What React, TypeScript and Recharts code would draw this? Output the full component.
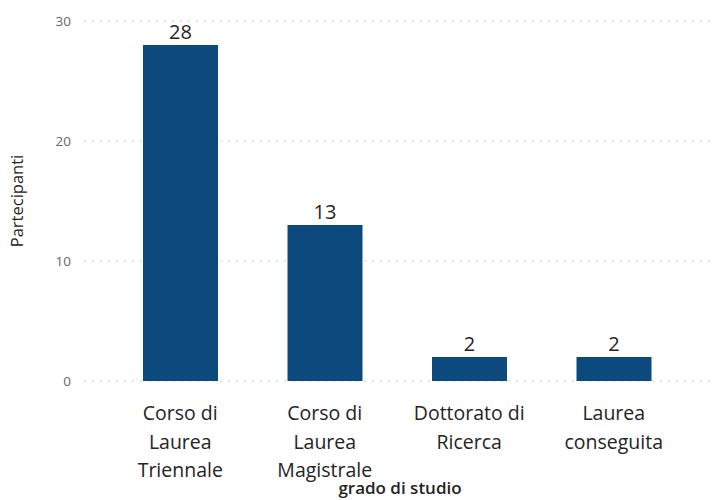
import { BarChart, Bar, XAxis, YAxis, CartesianGrid, LabelList, Label } from 'recharts'

const categories = ['Corso di Laurea Triennale', 'Corso di Laurea Magistrale', 'Dottorato di Ricerca', 'Laurea conseguita']
const categoryLines = [
    ['Corso di', 'Laurea', 'Triennale'],
    ['Corso di', 'Laurea', 'Magistrale'],
    ['Dottorato di', 'Ricerca'],
    ['Laurea', 'conseguita'],
]
const participants = [28, 13, 2, 2]
const yTicks = [0, 10, 20, 30]

const data = categories.map((c, i) => ({ grado: c, partecipanti: participants[i] }))

const FONT = '"Open Sans", "Noto Sans", sans-serif'

function CategoryTick({ x, y, payload }: any) {
    const idx = categories.indexOf(payload.value)
    const lines = categoryLines[idx] || [payload.value]
    return (
        <text x={x} y={y} textAnchor="middle" fill="#252423" fontSize={19.5} fontFamily={FONT}>
            {lines.map((l, i) => (
                <tspan key={i} x={x} dy={i === 0 ? 31 : 28.5}>{l}</tspan>
            ))}
        </text>
    )
}

export default function App() {
    return (
        <div style={{ position: 'absolute', left: 0, top: 0, width: 712, height: 500, background: '#fff' }}>
            <BarChart width={712} height={500} data={data} margin={{ top: 21, right: 0, bottom: 0, left: 0 }}>
                <CartesianGrid vertical={false} stroke="#c8c8c8" strokeDasharray="2 6" />
                <XAxis
                    dataKey="grado"
                    axisLine={false}
                    tickLine={false}
                    height={119}
                    padding={{ left: 24, right: 26 }}
                    interval={0}
                    tick={<CategoryTick />}
                >
                    <Label
                        content={({ viewBox }: any) => (
                            <text x={400} y={viewBox.y + 113} textAnchor="middle" fill="#252423" fontSize={17} fontWeight={600} fontFamily={FONT}>
                                grado di studio
                            </text>
                        )}
                    />
                </XAxis>
                <YAxis
                    width={84}
                    domain={[0, 30]}
                    ticks={yTicks}
                    axisLine={false}
                    tickLine={false}
                    tickSize={0}
                    tickMargin={13}
                    tick={{ fill: '#666666', fontSize: 13.5, fontFamily: FONT }}
                >
                    <Label
                        content={({ viewBox }: any) => {
                            const cx = viewBox.x + 23
                            const cy = viewBox.y + viewBox.height / 2
                            return (
                                <text x={cx} y={cy} transform={`rotate(-90 ${cx} ${cy})`} textAnchor="middle" fill="#252423" fontSize={16.5} fontFamily={FONT}>
                                    Partecipanti
                                </text>
                            )
                        }}
                    />
                </YAxis>
                <Bar dataKey="partecipanti" fill="#0c4a7d" barSize={75} isAnimationActive={false}>
                    <LabelList dataKey="partecipanti" position="top" offset={6} fill="#252423" fontSize={20} fontFamily={FONT} />
                </Bar>
            </BarChart>
        </div>
    )
}
